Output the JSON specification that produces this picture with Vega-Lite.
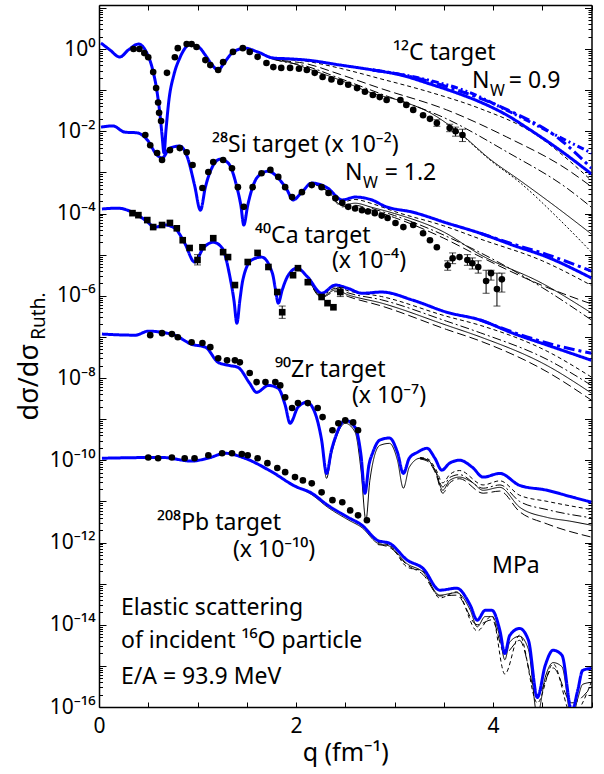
{
"$schema": "https://vega.github.io/schema/vega-lite/v6.json",
"width": 492.5, "height": 702,
"autosize": "none",
"padding": {"left": 99, "top": 5, "right": 12.5, "bottom": 67},
"config": {"view": {"stroke": null}, "font": "Noto Sans",
  "axis": {"grid": false, "domainColor": "black", "domainWidth": 1.5, "tickColor": "black", "tickWidth": 1, "labelColor": "black", "titleColor": "black", "labelFlush": false, "labelOverlap": false, "labelFont": "Noto Sans", "titleFont": "Noto Sans"}},
"datasets": {
"blue": [
{"t":"C","m":"B1","q":0.02,"v":1.40},{"t":"C","m":"B1","q":0.11,"v":0.955},{"t":"C","m":"B1","q":0.21,"v":0.638},{"t":"C","m":"B1","q":0.30,"v":0.955},{"t":"C","m":"B1","q":0.40,"v":1.318},{"t":"C","m":"B1","q":0.48,"v":0.851},{"t":"C","m":"B1","q":0.54,"v":0.347},{"t":"C","m":"B1","q":0.59,"v":0.0891},{"t":"C","m":"B1","q":0.62,"v":0.0245},{"t":"C","m":"B1","q":0.64,"v":0.00813},{"t":"C","m":"B1","q":0.66,"v":0.00295},{"t":"C","m":"B1","q":0.68,"v":0.0107},{"t":"C","m":"B1","q":0.71,"v":0.0575},{"t":"C","m":"B1","q":0.76,"v":0.234},{"t":"C","m":"B1","q":0.82,"v":0.603},{"t":"C","m":"B1","q":0.92,"v":1.259},{"t":"C","m":"B1","q":1.01,"v":1.122},{"t":"C","m":"B1","q":1.08,"v":0.708},{"t":"C","m":"B1","q":1.15,"v":0.407},{"t":"C","m":"B1","q":1.21,"v":0.309},{"t":"C","m":"B1","q":1.27,"v":0.457},{"t":"C","m":"B1","q":1.35,"v":0.794},{"t":"C","m":"B1","q":1.48,"v":1.047},{"t":"C","m":"B1","q":1.61,"v":0.851},{"t":"C","m":"B1","q":1.77,"v":0.603},{"t":"C","m":"B1","q":1.94,"v":0.575},{"t":"C","m":"B1","q":2.11,"v":0.537},{"t":"C","m":"B1","q":2.45,"v":0.407},{"t":"C","m":"B1","q":2.78,"v":0.309},{"t":"C","m":"B1","q":3.06,"v":0.234},{"t":"C","m":"B1","q":3.36,"v":0.141},{"t":"C","m":"B1","q":3.61,"v":0.0891},{"t":"C","m":"B1","q":3.87,"v":0.0513},{"t":"C","m":"B1","q":4.12,"v":0.0263},{"t":"C","m":"B1","q":4.38,"v":0.0107},{"t":"C","m":"B1","q":4.68,"v":0.00347},{"t":"C","m":"B1","q":5.0,"v":0.000912},
{"t":"C","m":"B2","q":2.78,"v":0.309},{"t":"C","m":"B2","q":3.06,"v":0.240},{"t":"C","m":"B2","q":3.61,"v":0.105},{"t":"C","m":"B2","q":4.12,"v":0.0355},{"t":"C","m":"B2","q":4.68,"v":0.00631},{"t":"C","m":"B2","q":5.0,"v":0.00126},
{"t":"C","m":"B3","q":2.78,"v":0.309},{"t":"C","m":"B3","q":3.26,"v":0.195},{"t":"C","m":"B3","q":3.70,"v":0.100},{"t":"C","m":"B3","q":4.20,"v":0.0275},{"t":"C","m":"B3","q":4.60,"v":0.00891},{"t":"C","m":"B3","q":5.0,"v":0.00295},
{"t":"Si","m":"B1","q":0.02,"v":1.26e-2},{"t":"Si","m":"B1","q":0.14,"v":1.35e-2},{"t":"Si","m":"B1","q":0.26,"v":9.55e-3},{"t":"Si","m":"B1","q":0.39,"v":9.12e-3},{"t":"Si","m":"B1","q":0.49,"v":6.17e-3},{"t":"Si","m":"B1","q":0.59,"v":2.63e-3},{"t":"Si","m":"B1","q":0.64,"v":2.24e-3},{"t":"Si","m":"B1","q":0.72,"v":3.89e-3},{"t":"Si","m":"B1","q":0.82,"v":4.37e-3},{"t":"Si","m":"B1","q":0.90,"v":2.24e-3},{"t":"Si","m":"B1","q":0.97,"v":4.90e-4},{"t":"Si","m":"B1","q":1.03,"v":1.20e-4},{"t":"Si","m":"B1","q":1.08,"v":4.37e-4},{"t":"Si","m":"B1","q":1.15,"v":1.35e-3},{"t":"Si","m":"B1","q":1.23,"v":2.09e-3},{"t":"Si","m":"B1","q":1.31,"v":1.70e-3},{"t":"Si","m":"B1","q":1.40,"v":4.37e-4},{"t":"Si","m":"B1","q":1.44,"v":1.58e-4},{"t":"Si","m":"B1","q":1.47,"v":5.25e-5},{"t":"Si","m":"B1","q":1.51,"v":1.58e-4},{"t":"Si","m":"B1","q":1.55,"v":3.72e-4},{"t":"Si","m":"B1","q":1.61,"v":7.76e-4},{"t":"Si","m":"B1","q":1.72,"v":1.07e-3},{"t":"Si","m":"B1","q":1.82,"v":7.24e-4},{"t":"Si","m":"B1","q":1.91,"v":3.72e-4},{"t":"Si","m":"B1","q":1.97,"v":2.14e-4},{"t":"Si","m":"B1","q":2.06,"v":3.31e-4},{"t":"Si","m":"B1","q":2.16,"v":5.50e-4},{"t":"Si","m":"B1","q":2.32,"v":4.17e-4},{"t":"Si","m":"B1","q":2.47,"v":2.14e-4},{"t":"Si","m":"B1","q":2.60,"v":2.51e-4},{"t":"Si","m":"B1","q":2.77,"v":2.14e-4},{"t":"Si","m":"B1","q":2.90,"v":1.51e-4},{"t":"Si","m":"B1","q":3.19,"v":1.07e-4},{"t":"Si","m":"B1","q":3.53,"v":5.89e-5},{"t":"Si","m":"B1","q":3.87,"v":3.31e-5},{"t":"Si","m":"B1","q":4.20,"v":1.70e-5},{"t":"Si","m":"B1","q":4.55,"v":8.71e-6},{"t":"Si","m":"B1","q":5.0,"v":2.69e-6},
{"t":"Si","m":"B2","q":3.87,"v":3.31e-5},{"t":"Si","m":"B2","q":4.20,"v":1.82e-5},{"t":"Si","m":"B2","q":4.55,"v":1.0e-5},{"t":"Si","m":"B2","q":5.0,"v":3.98e-6},
{"t":"Ca","m":"B1","q":0.03,"v":1.29e-4},{"t":"Ca","m":"B1","q":0.19,"v":1.35e-4},{"t":"Ca","m":"B1","q":0.34,"v":1.07e-4},{"t":"Ca","m":"B1","q":0.47,"v":6.92e-5},{"t":"Ca","m":"B1","q":0.57,"v":4.68e-5},{"t":"Ca","m":"B1","q":0.67,"v":5.25e-5},{"t":"Ca","m":"B1","q":0.77,"v":4.37e-5},{"t":"Ca","m":"B1","q":0.87,"v":1.91e-5},{"t":"Ca","m":"B1","q":0.97,"v":6.61e-6},{"t":"Ca","m":"B1","q":1.06,"v":1.45e-5},{"t":"Ca","m":"B1","q":1.16,"v":2.00e-5},{"t":"Ca","m":"B1","q":1.25,"v":1.45e-5},{"t":"Ca","m":"B1","q":1.33,"v":2.82e-6},{"t":"Ca","m":"B1","q":1.37,"v":7.76e-7},{"t":"Ca","m":"B1","q":1.40,"v":2.14e-7},{"t":"Ca","m":"B1","q":1.43,"v":7.76e-7},{"t":"Ca","m":"B1","q":1.46,"v":2.40e-6},{"t":"Ca","m":"B1","q":1.55,"v":7.41e-6},{"t":"Ca","m":"B1","q":1.65,"v":8.71e-6},{"t":"Ca","m":"B1","q":1.76,"v":3.55e-6},{"t":"Ca","m":"B1","q":1.79,"v":1.51e-6},{"t":"Ca","m":"B1","q":1.82,"v":6.61e-7},{"t":"Ca","m":"B1","q":1.86,"v":1.38e-6},{"t":"Ca","m":"B1","q":1.91,"v":2.82e-6},{"t":"Ca","m":"B1","q":2.01,"v":4.68e-6},{"t":"Ca","m":"B1","q":2.12,"v":2.82e-6},{"t":"Ca","m":"B1","q":2.26,"v":1.15e-6},{"t":"Ca","m":"B1","q":2.40,"v":1.82e-6},{"t":"Ca","m":"B1","q":2.53,"v":1.51e-6},{"t":"Ca","m":"B1","q":2.67,"v":1.15e-6},{"t":"Ca","m":"B1","q":2.87,"v":1.23e-6},{"t":"Ca","m":"B1","q":3.19,"v":7.76e-7},{"t":"Ca","m":"B1","q":3.53,"v":3.98e-7},{"t":"Ca","m":"B1","q":3.87,"v":2.57e-7},{"t":"Ca","m":"B1","q":4.20,"v":1.23e-7},{"t":"Ca","m":"B1","q":4.55,"v":6.31e-8},{"t":"Ca","m":"B1","q":5.0,"v":2.69e-8},
{"t":"Ca","m":"B2","q":3.87,"v":2.57e-7},{"t":"Ca","m":"B2","q":4.55,"v":7.08e-8},{"t":"Ca","m":"B2","q":5.0,"v":3.98e-8},
{"t":"Zr","m":"B1","q":0.03,"v":1.17e-7},{"t":"Zr","m":"B1","q":0.37,"v":1.10e-7},{"t":"Zr","m":"B1","q":0.50,"v":1.38e-7},{"t":"Zr","m":"B1","q":0.64,"v":1.29e-7},{"t":"Zr","m":"B1","q":0.77,"v":1.10e-7},{"t":"Zr","m":"B1","q":0.94,"v":6.61e-8},{"t":"Zr","m":"B1","q":1.08,"v":5.62e-8},{"t":"Zr","m":"B1","q":1.21,"v":2.40e-8},{"t":"Zr","m":"B1","q":1.31,"v":2.04e-8},{"t":"Zr","m":"B1","q":1.41,"v":1.82e-8},{"t":"Zr","m":"B1","q":1.53,"v":7.41e-9},{"t":"Zr","m":"B1","q":1.60,"v":4.47e-9},{"t":"Zr","m":"B1","q":1.72,"v":6.61e-9},{"t":"Zr","m":"B1","q":1.82,"v":5.62e-9},{"t":"Zr","m":"B1","q":1.89,"v":2.19e-9},{"t":"Zr","m":"B1","q":1.94,"v":7.94e-10},{"t":"Zr","m":"B1","q":2.02,"v":1.95e-9},{"t":"Zr","m":"B1","q":2.11,"v":2.57e-9},{"t":"Zr","m":"B1","q":2.19,"v":1.48e-9},{"t":"Zr","m":"B1","q":2.26,"v":3.09e-10},{"t":"Zr","m":"B1","q":2.31,"v":4.79e-11},{"t":"Zr","m":"B1","q":2.36,"v":1.74e-10},{"t":"Zr","m":"B1","q":2.40,"v":3.63e-10},{"t":"Zr","m":"B1","q":2.50,"v":9.33e-10},{"t":"Zr","m":"B1","q":2.60,"v":6.31e-10},{"t":"Zr","m":"B1","q":2.66,"v":1.32e-10},{"t":"Zr","m":"B1","q":2.70,"v":1.58e-11},{"t":"Zr","m":"B1","q":2.74,"v":7.59e-11},{"t":"Zr","m":"B1","q":2.78,"v":1.55e-10},{"t":"Zr","m":"B1","q":2.85,"v":3.09e-10},{"t":"Zr","m":"B1","q":2.95,"v":3.47e-10},{"t":"Zr","m":"B1","q":3.03,"v":1.55e-10},{"t":"Zr","m":"B1","q":3.09,"v":4.79e-11},{"t":"Zr","m":"B1","q":3.15,"v":1.12e-10},{"t":"Zr","m":"B1","q":3.23,"v":1.55e-10},{"t":"Zr","m":"B1","q":3.33,"v":1.95e-10},{"t":"Zr","m":"B1","q":3.41,"v":1.12e-10},{"t":"Zr","m":"B1","q":3.48,"v":5.75e-11},{"t":"Zr","m":"B1","q":3.56,"v":8.51e-11},{"t":"Zr","m":"B1","q":3.66,"v":1.00e-10},{"t":"Zr","m":"B1","q":3.79,"v":6.76e-11},{"t":"Zr","m":"B1","q":3.90,"v":3.89e-11},{"t":"Zr","m":"B1","q":4.07,"v":4.79e-11},{"t":"Zr","m":"B1","q":4.27,"v":2.45e-11},{"t":"Zr","m":"B1","q":4.55,"v":1.86e-11},{"t":"Zr","m":"B1","q":4.78,"v":1.32e-11},{"t":"Zr","m":"B1","q":5.0,"v":9.55e-12},
{"t":"Pb","m":"B1","q":0.03,"v":1.12e-10},{"t":"Pb","m":"B1","q":0.64,"v":1.17e-10},{"t":"Pb","m":"B1","q":0.94,"v":9.55e-11},{"t":"Pb","m":"B1","q":1.13,"v":1.17e-10},{"t":"Pb","m":"B1","q":1.28,"v":1.48e-10},{"t":"Pb","m":"B1","q":1.48,"v":1.12e-10},{"t":"Pb","m":"B1","q":1.76,"v":5.13e-11},{"t":"Pb","m":"B1","q":1.99,"v":2.34e-11},{"t":"Pb","m":"B1","q":2.16,"v":1.58e-11},{"t":"Pb","m":"B1","q":2.32,"v":8.13e-12},{"t":"Pb","m":"B1","q":2.53,"v":4.07e-12},{"t":"Pb","m":"B1","q":2.67,"v":2.63e-12},{"t":"Pb","m":"B1","q":2.83,"v":1.12e-12},{"t":"Pb","m":"B1","q":2.95,"v":9.55e-13},{"t":"Pb","m":"B1","q":3.13,"v":3.72e-13},{"t":"Pb","m":"B1","q":3.29,"v":2.34e-13},{"t":"Pb","m":"B1","q":3.46,"v":6.92e-14},{"t":"Pb","m":"B1","q":3.63,"v":7.76e-14},{"t":"Pb","m":"B1","q":3.77,"v":2.95e-14},{"t":"Pb","m":"B1","q":3.84,"v":1.29e-14},{"t":"Pb","m":"B1","q":3.92,"v":2.24e-14},{"t":"Pb","m":"B1","q":3.99,"v":2.24e-14},{"t":"Pb","m":"B1","q":4.07,"v":7.24e-15},{"t":"Pb","m":"B1","q":4.12,"v":2.00e-15},{"t":"Pb","m":"B1","q":4.17,"v":5.50e-15},{"t":"Pb","m":"B1","q":4.27,"v":8.13e-15},{"t":"Pb","m":"B1","q":4.36,"v":4.17e-15},{"t":"Pb","m":"B1","q":4.45,"v":1.70e-16},{"t":"Pb","m":"B1","q":4.53,"v":1.02e-15},{"t":"Pb","m":"B1","q":4.61,"v":2.40e-15},{"t":"Pb","m":"B1","q":4.70,"v":1.82e-15},{"t":"Pb","m":"B1","q":4.80,"v":7.94e-17},{"t":"Pb","m":"B1","q":4.86,"v":2.51e-16},{"t":"Pb","m":"B1","q":4.91,"v":7.76e-16},{"t":"Pb","m":"B1","q":5.0,"v":8.71e-16}
],
"black": [
{"t":"C","m":"K1","q":1.61,"v":0.851},{"t":"C","m":"K1","q":1.77,"v":0.562},{"t":"C","m":"K1","q":1.94,"v":0.468},{"t":"C","m":"K1","q":2.11,"v":0.339},{"t":"C","m":"K1","q":2.45,"v":0.174},{"t":"C","m":"K1","q":2.78,"v":0.0832},{"t":"C","m":"K1","q":3.06,"v":0.055},{"t":"C","m":"K1","q":3.36,"v":0.0282},{"t":"C","m":"K1","q":3.69,"v":0.00794},{"t":"C","m":"K1","q":3.97,"v":0.00209},{"t":"C","m":"K1","q":4.27,"v":6.46e-4},{"t":"C","m":"K1","q":4.63,"v":1.51e-4},{"t":"C","m":"K1","q":5.0,"v":3.16e-5},
{"t":"C","m":"K5","q":3.69,"v":0.00794},{"t":"C","m":"K5","q":3.97,"v":0.0020},{"t":"C","m":"K5","q":4.27,"v":5.75e-4},{"t":"C","m":"K5","q":4.68,"v":6.92e-5},{"t":"C","m":"K5","q":5.0,"v":1.15e-5},
{"t":"C","m":"K3","q":1.61,"v":0.851},{"t":"C","m":"K3","q":1.77,"v":0.603},{"t":"C","m":"K3","q":2.11,"v":0.501},{"t":"C","m":"K3","q":2.45,"v":0.339},{"t":"C","m":"K3","q":2.85,"v":0.191},{"t":"C","m":"K3","q":3.36,"v":0.0891},{"t":"C","m":"K3","q":3.87,"v":0.0355},{"t":"C","m":"K3","q":4.38,"v":0.010},{"t":"C","m":"K3","q":5.0,"v":6.31e-4},
{"t":"C","m":"K2","q":1.61,"v":0.851},{"t":"C","m":"K2","q":1.77,"v":0.589},{"t":"C","m":"K2","q":2.11,"v":0.437},{"t":"C","m":"K2","q":2.45,"v":0.240},{"t":"C","m":"K2","q":2.85,"v":0.112},{"t":"C","m":"K2","q":3.53,"v":0.0331},{"t":"C","m":"K2","q":4.14,"v":0.00724},{"t":"C","m":"K2","q":4.76,"v":0.00115},{"t":"C","m":"K2","q":5.0,"v":4.47e-4},
{"t":"C","m":"K4","q":1.61,"v":0.851},{"t":"C","m":"K4","q":1.77,"v":0.575},{"t":"C","m":"K4","q":2.11,"v":0.380},{"t":"C","m":"K4","q":2.45,"v":0.191},{"t":"C","m":"K4","q":2.85,"v":0.0832},{"t":"C","m":"K4","q":3.53,"v":0.020},{"t":"C","m":"K4","q":4.14,"v":0.00316},{"t":"C","m":"K4","q":4.76,"v":3.98e-4},{"t":"C","m":"K4","q":5.0,"v":1.41e-4},
{"t":"Si","m":"K3","q":2.16,"v":5.50e-4},{"t":"Si","m":"K3","q":2.32,"v":3.98e-4},{"t":"Si","m":"K3","q":2.47,"v":1.91e-4},{"t":"Si","m":"K3","q":2.60,"v":2.19e-4},{"t":"Si","m":"K3","q":2.77,"v":1.74e-4},{"t":"Si","m":"K3","q":3.0,"v":1.12e-4},{"t":"Si","m":"K3","q":3.5,"v":5.01e-5},{"t":"Si","m":"K3","q":3.87,"v":2.40e-5},{"t":"Si","m":"K3","q":4.5,"v":7.08e-6},{"t":"Si","m":"K3","q":5.0,"v":1.78e-6},
{"t":"Si","m":"K1","q":2.16,"v":5.50e-4},{"t":"Si","m":"K1","q":2.32,"v":3.55e-4},{"t":"Si","m":"K1","q":2.47,"v":1.58e-4},{"t":"Si","m":"K1","q":2.60,"v":1.78e-4},{"t":"Si","m":"K1","q":2.77,"v":1.41e-4},{"t":"Si","m":"K1","q":3.0,"v":1.0e-4},{"t":"Si","m":"K1","q":3.5,"v":3.55e-5},{"t":"Si","m":"K1","q":3.87,"v":1.0e-5},{"t":"Si","m":"K1","q":4.5,"v":2.0e-6},{"t":"Si","m":"K1","q":5.0,"v":3.80e-7},
{"t":"Si","m":"K2","q":2.16,"v":5.50e-4},{"t":"Si","m":"K2","q":2.32,"v":3.39e-4},{"t":"Si","m":"K2","q":2.47,"v":1.45e-4},{"t":"Si","m":"K2","q":2.60,"v":1.58e-4},{"t":"Si","m":"K2","q":2.77,"v":1.20e-4},{"t":"Si","m":"K2","q":3.0,"v":7.94e-5},{"t":"Si","m":"K2","q":3.5,"v":2.51e-5},{"t":"Si","m":"K2","q":3.87,"v":8.91e-6},{"t":"Si","m":"K2","q":4.5,"v":1.78e-6},{"t":"Si","m":"K2","q":5.0,"v":6.31e-7},
{"t":"Si","m":"K4","q":2.77,"v":1.32e-4},{"t":"Si","m":"K4","q":3.0,"v":8.91e-5},{"t":"Si","m":"K4","q":3.87,"v":1.12e-5},{"t":"Si","m":"K4","q":4.5,"v":1.58e-6},{"t":"Si","m":"K4","q":5.0,"v":2.57e-7},
{"t":"Ca","m":"K3","q":2.12,"v":2.82e-6},{"t":"Ca","m":"K3","q":2.26,"v":1.07e-6},{"t":"Ca","m":"K3","q":2.40,"v":1.66e-6},{"t":"Ca","m":"K3","q":2.53,"v":1.32e-6},{"t":"Ca","m":"K3","q":2.87,"v":9.55e-7},{"t":"Ca","m":"K3","q":3.53,"v":3.16e-7},{"t":"Ca","m":"K3","q":3.87,"v":1.91e-7},{"t":"Ca","m":"K3","q":4.55,"v":4.47e-8},{"t":"Ca","m":"K3","q":5.0,"v":1.05e-8},
{"t":"Ca","m":"K4","q":2.12,"v":2.82e-6},{"t":"Ca","m":"K4","q":2.26,"v":1.02e-6},{"t":"Ca","m":"K4","q":2.40,"v":1.51e-6},{"t":"Ca","m":"K4","q":2.53,"v":1.17e-6},{"t":"Ca","m":"K4","q":2.87,"v":7.94e-7},{"t":"Ca","m":"K4","q":3.53,"v":2.40e-7},{"t":"Ca","m":"K4","q":3.87,"v":1.26e-7},{"t":"Ca","m":"K4","q":4.55,"v":2.82e-8},{"t":"Ca","m":"K4","q":5.0,"v":6.61e-9},
{"t":"Ca","m":"K1","q":2.12,"v":2.82e-6},{"t":"Ca","m":"K1","q":2.26,"v":9.55e-7},{"t":"Ca","m":"K1","q":2.40,"v":1.38e-6},{"t":"Ca","m":"K1","q":2.53,"v":1.05e-6},{"t":"Ca","m":"K1","q":2.87,"v":6.61e-7},{"t":"Ca","m":"K1","q":3.53,"v":1.91e-7},{"t":"Ca","m":"K1","q":3.87,"v":1.0e-7},{"t":"Ca","m":"K1","q":4.55,"v":2.0e-8},{"t":"Ca","m":"K1","q":5.0,"v":4.27e-9},
{"t":"Ca","m":"K2","q":2.12,"v":2.82e-6},{"t":"Ca","m":"K2","q":2.26,"v":9.12e-7},{"t":"Ca","m":"K2","q":2.40,"v":1.26e-6},{"t":"Ca","m":"K2","q":2.53,"v":9.55e-7},{"t":"Ca","m":"K2","q":2.87,"v":5.62e-7},{"t":"Ca","m":"K2","q":3.53,"v":1.51e-7},{"t":"Ca","m":"K2","q":3.87,"v":7.94e-8},{"t":"Ca","m":"K2","q":4.55,"v":1.41e-8},{"t":"Ca","m":"K2","q":5.0,"v":2.88e-9},
{"t":"Zr","m":"K1","q":2.11,"v":2.57e-9},{"t":"Zr","m":"K1","q":2.19,"v":1.41e-9},{"t":"Zr","m":"K1","q":2.26,"v":2.82e-10},{"t":"Zr","m":"K1","q":2.31,"v":3.63e-11},{"t":"Zr","m":"K1","q":2.36,"v":1.41e-10},{"t":"Zr","m":"K1","q":2.40,"v":3.09e-10},{"t":"Zr","m":"K1","q":2.50,"v":7.94e-10},{"t":"Zr","m":"K1","q":2.60,"v":4.79e-10},{"t":"Zr","m":"K1","q":2.66,"v":5.75e-11},{"t":"Zr","m":"K1","q":2.71,"v":3.47e-12},{"t":"Zr","m":"K1","q":2.75,"v":3.24e-11},{"t":"Zr","m":"K1","q":2.85,"v":2.29e-10},{"t":"Zr","m":"K1","q":2.95,"v":2.57e-10},{"t":"Zr","m":"K1","q":3.03,"v":1.0e-10},{"t":"Zr","m":"K1","q":3.09,"v":2.09e-11},{"t":"Zr","m":"K1","q":3.15,"v":6.76e-11},{"t":"Zr","m":"K1","q":3.26,"v":1.12e-10},{"t":"Zr","m":"K1","q":3.34,"v":1.0e-10},{"t":"Zr","m":"K1","q":3.42,"v":5.13e-11},{"t":"Zr","m":"K1","q":3.49,"v":1.86e-11},{"t":"Zr","m":"K1","q":3.56,"v":3.24e-11},{"t":"Zr","m":"K1","q":3.66,"v":3.89e-11},{"t":"Zr","m":"K1","q":3.79,"v":2.88e-11},{"t":"Zr","m":"K1","q":3.90,"v":1.86e-11},{"t":"Zr","m":"K1","q":4.07,"v":2.19e-11},{"t":"Zr","m":"K1","q":4.27,"v":7.24e-12},{"t":"Zr","m":"K1","q":4.55,"v":4.07e-12},{"t":"Zr","m":"K1","q":4.78,"v":3.31e-12},{"t":"Zr","m":"K1","q":5.0,"v":2.63e-12},
{"t":"Zr","m":"K3","q":3.26,"v":1.17e-10},{"t":"Zr","m":"K3","q":3.34,"v":1.07e-10},{"t":"Zr","m":"K3","q":3.42,"v":6.03e-11},{"t":"Zr","m":"K3","q":3.49,"v":2.82e-11},{"t":"Zr","m":"K3","q":3.56,"v":4.47e-11},{"t":"Zr","m":"K3","q":3.66,"v":5.62e-11},{"t":"Zr","m":"K3","q":3.90,"v":2.51e-11},{"t":"Zr","m":"K3","q":4.07,"v":3.16e-11},{"t":"Zr","m":"K3","q":4.27,"v":1.41e-11},{"t":"Zr","m":"K3","q":4.55,"v":1.0e-11},{"t":"Zr","m":"K3","q":5.0,"v":6.31e-12},
{"t":"Zr","m":"K2","q":3.26,"v":1.07e-10},{"t":"Zr","m":"K2","q":3.34,"v":9.33e-11},{"t":"Zr","m":"K2","q":3.42,"v":4.68e-11},{"t":"Zr","m":"K2","q":3.49,"v":1.58e-11},{"t":"Zr","m":"K2","q":3.56,"v":2.82e-11},{"t":"Zr","m":"K2","q":3.66,"v":3.55e-11},{"t":"Zr","m":"K2","q":3.90,"v":1.58e-11},{"t":"Zr","m":"K2","q":4.07,"v":1.78e-11},{"t":"Zr","m":"K2","q":4.27,"v":5.62e-12},{"t":"Zr","m":"K2","q":4.55,"v":2.82e-12},{"t":"Zr","m":"K2","q":5.0,"v":1.35e-12},
{"t":"Zr","m":"K4","q":3.26,"v":1.12e-10},{"t":"Zr","m":"K4","q":3.34,"v":1.0e-10},{"t":"Zr","m":"K4","q":3.42,"v":5.25e-11},{"t":"Zr","m":"K4","q":3.49,"v":2.24e-11},{"t":"Zr","m":"K4","q":3.56,"v":3.80e-11},{"t":"Zr","m":"K4","q":3.66,"v":4.47e-11},{"t":"Zr","m":"K4","q":3.90,"v":2.09e-11},{"t":"Zr","m":"K4","q":4.07,"v":2.51e-11},{"t":"Zr","m":"K4","q":4.27,"v":1.0e-11},{"t":"Zr","m":"K4","q":4.55,"v":6.31e-12},{"t":"Zr","m":"K4","q":5.0,"v":3.98e-12},
{"t":"Pb","m":"K1","q":1.99,"v":2.34e-11},{"t":"Pb","m":"K1","q":2.16,"v":1.45e-11},{"t":"Pb","m":"K1","q":2.32,"v":7.24e-12},{"t":"Pb","m":"K1","q":2.53,"v":3.55e-12},{"t":"Pb","m":"K1","q":2.67,"v":2.29e-12},{"t":"Pb","m":"K1","q":2.83,"v":9.55e-13},{"t":"Pb","m":"K1","q":2.95,"v":8.13e-13},{"t":"Pb","m":"K1","q":3.13,"v":3.02e-13},{"t":"Pb","m":"K1","q":3.29,"v":1.91e-13},{"t":"Pb","m":"K1","q":3.46,"v":5.25e-14},{"t":"Pb","m":"K1","q":3.63,"v":6.03e-14},{"t":"Pb","m":"K1","q":3.77,"v":2.24e-14},{"t":"Pb","m":"K1","q":3.84,"v":8.91e-15},{"t":"Pb","m":"K1","q":3.92,"v":1.58e-14},{"t":"Pb","m":"K1","q":3.99,"v":1.58e-14},{"t":"Pb","m":"K1","q":4.07,"v":5.01e-15},{"t":"Pb","m":"K1","q":4.12,"v":1.41e-15},{"t":"Pb","m":"K1","q":4.17,"v":3.80e-15},{"t":"Pb","m":"K1","q":4.27,"v":5.25e-15},{"t":"Pb","m":"K1","q":4.36,"v":2.51e-15},{"t":"Pb","m":"K1","q":4.45,"v":6.31e-17},{"t":"Pb","m":"K1","q":4.53,"v":5.25e-16},{"t":"Pb","m":"K1","q":4.61,"v":1.20e-15},{"t":"Pb","m":"K1","q":4.70,"v":9.55e-16},{"t":"Pb","m":"K1","q":4.80,"v":5.01e-17},{"t":"Pb","m":"K1","q":4.86,"v":1.58e-16},{"t":"Pb","m":"K1","q":4.91,"v":3.55e-16},{"t":"Pb","m":"K1","q":5.0,"v":3.98e-16},
{"t":"Pb","m":"K3","q":2.83,"v":1.0e-12},{"t":"Pb","m":"K3","q":2.95,"v":8.51e-13},{"t":"Pb","m":"K3","q":3.13,"v":2.51e-13},{"t":"Pb","m":"K3","q":3.29,"v":2.0e-13},{"t":"Pb","m":"K3","q":3.46,"v":4.47e-14},{"t":"Pb","m":"K3","q":3.63,"v":6.31e-14},{"t":"Pb","m":"K3","q":3.84,"v":7.08e-15},{"t":"Pb","m":"K3","q":3.99,"v":1.66e-14},{"t":"Pb","m":"K3","q":4.12,"v":6.31e-16},{"t":"Pb","m":"K3","q":4.27,"v":5.62e-15},{"t":"Pb","m":"K3","q":4.45,"v":1.26e-16},{"t":"Pb","m":"K3","q":4.61,"v":1.12e-15},{"t":"Pb","m":"K3","q":4.80,"v":6.31e-17},{"t":"Pb","m":"K3","q":5.0,"v":4.17e-16},
{"t":"Pb","m":"K2","q":2.83,"v":8.91e-13},{"t":"Pb","m":"K2","q":2.95,"v":7.59e-13},{"t":"Pb","m":"K2","q":3.13,"v":2.82e-13},{"t":"Pb","m":"K2","q":3.29,"v":1.66e-13},{"t":"Pb","m":"K2","q":3.46,"v":5.01e-14},{"t":"Pb","m":"K2","q":3.63,"v":5.25e-14},{"t":"Pb","m":"K2","q":3.84,"v":1.0e-14},{"t":"Pb","m":"K2","q":3.99,"v":1.32e-14},{"t":"Pb","m":"K2","q":4.12,"v":2.0e-15},{"t":"Pb","m":"K2","q":4.27,"v":4.17e-15},{"t":"Pb","m":"K2","q":4.45,"v":2.0e-16},{"t":"Pb","m":"K2","q":4.61,"v":8.91e-16},{"t":"Pb","m":"K2","q":4.80,"v":1.26e-16},{"t":"Pb","m":"K2","q":5.0,"v":3.16e-16}
],
"pts": [
{"t":"C","q":0.35,"v":1.0},{"t":"C","q":0.41,"v":1.0},{"t":"C","q":0.46,"v":0.794},{"t":"C","q":0.50,"v":0.631},{"t":"C","q":0.55,"v":0.275},{"t":"C","q":0.58,"v":0.112},{"t":"C","q":0.60,"v":0.0501},{"t":"C","q":0.61,"v":0.0282},{"t":"C","q":0.63,"v":0.0178},{"t":"C","q":0.69,"v":0.263},{"t":"C","q":0.77,"v":0.631},{"t":"C","q":0.80,"v":1.047},{"t":"C","q":0.89,"v":1.318},{"t":"C","q":0.94,"v":1.318},{"t":"C","q":0.99,"v":1.122},{"t":"C","q":1.08,"v":0.537},{"t":"C","q":1.13,"v":0.407},{"t":"C","q":1.21,"v":0.309},{"t":"C","q":1.26,"v":0.479},{"t":"C","q":1.36,"v":0.851},{"t":"C","q":1.46,"v":1.047},{"t":"C","q":1.53,"v":0.851},{"t":"C","q":1.61,"v":0.646},{"t":"C","q":1.70,"v":0.457},{"t":"C","q":1.77,"v":0.363},{"t":"C","q":1.85,"v":0.347},{"t":"C","q":1.94,"v":0.347},{"t":"C","q":2.03,"v":0.331},{"t":"C","q":2.11,"v":0.309},{"t":"C","q":2.19,"v":0.263},{"t":"C","q":2.27,"v":0.209},{"t":"C","q":2.36,"v":0.182},{"t":"C","q":2.45,"v":0.158},{"t":"C","q":2.53,"v":0.135},{"t":"C","q":2.62,"v":0.112},{"t":"C","q":2.70,"v":0.0912},{"t":"C","q":2.78,"v":0.0759},{"t":"C","q":2.85,"v":0.0676},{"t":"C","q":2.92,"v":0.0575},{"t":"C","q":3.06,"v":0.0575},{"t":"C","q":3.12,"v":0.0437},{"t":"C","q":3.19,"v":0.0331},{"t":"C","q":3.29,"v":0.0245},{"t":"C","q":3.36,"v":0.020},{"t":"C","q":3.43,"v":0.0158},{"t":"C","q":3.56,"v":0.012},{"t":"C","q":3.62,"v":0.010},{"t":"C","q":3.69,"v":0.00813},
{"t":"Si","q":0.47,"v":8.13e-3},{"t":"Si","q":0.52,"v":4.57e-3},{"t":"Si","q":0.59,"v":2.95e-3},{"t":"Si","q":0.64,"v":2.0e-3},{"t":"Si","q":0.72,"v":3.47e-3},{"t":"Si","q":0.82,"v":3.89e-3},{"t":"Si","q":0.89,"v":3.09e-3},{"t":"Si","q":0.95,"v":1.51e-3},{"t":"Si","q":1.05,"v":4.17e-4},{"t":"Si","q":1.11,"v":1.02e-3},{"t":"Si","q":1.16,"v":1.78e-3},{"t":"Si","q":1.26,"v":2.0e-3},{"t":"Si","q":1.35,"v":1.26e-3},{"t":"Si","q":1.41,"v":4.37e-4},{"t":"Si","q":1.47,"v":1.45e-4},{"t":"Si","q":1.56,"v":4.37e-4},{"t":"Si","q":1.65,"v":9.55e-4},{"t":"Si","q":1.74,"v":1.15e-3},{"t":"Si","q":1.82,"v":7.76e-4},{"t":"Si","q":1.89,"v":4.37e-4},{"t":"Si","q":1.96,"v":2.51e-4},{"t":"Si","q":2.06,"v":3.31e-4},{"t":"Si","q":2.16,"v":4.90e-4},{"t":"Si","q":2.26,"v":4.37e-4},{"t":"Si","q":2.33,"v":3.16e-4},{"t":"Si","q":2.40,"v":2.34e-4},{"t":"Si","q":2.47,"v":1.82e-4},{"t":"Si","q":2.53,"v":1.45e-4},{"t":"Si","q":2.60,"v":1.32e-4},{"t":"Si","q":2.67,"v":1.20e-4},{"t":"Si","q":2.73,"v":1.12e-4},{"t":"Si","q":2.80,"v":1.02e-4},{"t":"Si","q":2.87,"v":8.91e-5},{"t":"Si","q":2.93,"v":7.76e-5},{"t":"Si","q":3.01,"v":5.89e-5},{"t":"Si","q":3.09,"v":4.68e-5},{"t":"Si","q":3.19,"v":5.25e-5},{"t":"Si","q":3.29,"v":3.31e-5},{"t":"Si","q":3.36,"v":2.24e-5},{"t":"Si","q":3.43,"v":1.51e-5},{"t":"Si","q":3.54,"v":5.50e-6},{"t":"Si","q":3.59,"v":8.13e-6},{"t":"Si","q":3.66,"v":8.71e-6},{"t":"Si","q":3.74,"v":7.41e-6},{"t":"Si","q":3.79,"v":6.17e-6},{"t":"Si","q":3.85,"v":5.01e-6},{"t":"Si","q":3.93,"v":2.29e-6},{"t":"Si","q":3.98,"v":3.55e-6},{"t":"Si","q":4.04,"v":1.45e-6},{"t":"Si","q":4.09,"v":2.51e-6},
{"t":"Ca","q":0.34,"v":1.02e-4},{"t":"Ca","q":0.40,"v":9.12e-5},{"t":"Ca","q":0.49,"v":6.92e-5},{"t":"Ca","q":0.55,"v":4.68e-5},{"t":"Ca","q":0.64,"v":5.25e-5},{"t":"Ca","q":0.72,"v":5.89e-5},{"t":"Ca","q":0.79,"v":4.37e-5},{"t":"Ca","q":0.85,"v":2.24e-5},{"t":"Ca","q":0.92,"v":1.45e-5},{"t":"Ca","q":1.00,"v":7.41e-6},{"t":"Ca","q":1.05,"v":1.51e-5},{"t":"Ca","q":1.16,"v":2.51e-5},{"t":"Ca","q":1.26,"v":1.15e-5},{"t":"Ca","q":1.31,"v":8.71e-6},{"t":"Ca","q":1.38,"v":1.82e-6},{"t":"Ca","q":1.51,"v":6.61e-6},{"t":"Ca","q":1.61,"v":1.10e-5},{"t":"Ca","q":1.72,"v":5.01e-6},{"t":"Ca","q":1.81,"v":1.23e-6},{"t":"Ca","q":1.86,"v":3.98e-7},{"t":"Ca","q":1.97,"v":3.16e-6},{"t":"Ca","q":2.02,"v":4.68e-6},{"t":"Ca","q":2.12,"v":2.14e-6},{"t":"Ca","q":2.26,"v":9.33e-7},{"t":"Ca","q":2.32,"v":6.61e-7},{"t":"Ca","q":2.38,"v":5.25e-7},{"t":"Ca","q":2.45,"v":1.23e-6},
{"t":"Zr","q":0.52,"v":1.10e-7},{"t":"Zr","q":0.64,"v":1.23e-7},{"t":"Zr","q":0.74,"v":1.17e-7},{"t":"Zr","q":0.80,"v":9.77e-8},{"t":"Zr","q":0.94,"v":7.41e-8},{"t":"Zr","q":1.05,"v":7.08e-8},{"t":"Zr","q":1.13,"v":5.62e-8},{"t":"Zr","q":1.21,"v":3.02e-8},{"t":"Zr","q":1.30,"v":2.69e-8},{"t":"Zr","q":1.38,"v":2.69e-8},{"t":"Zr","q":1.43,"v":2.40e-8},{"t":"Zr","q":1.53,"v":1.32e-8},{"t":"Zr","q":1.60,"v":7.94e-9},{"t":"Zr","q":1.69,"v":7.94e-9},{"t":"Zr","q":1.79,"v":7.94e-9},{"t":"Zr","q":1.84,"v":6.61e-9},{"t":"Zr","q":1.89,"v":3.39e-9},{"t":"Zr","q":1.96,"v":1.86e-9},{"t":"Zr","q":2.02,"v":2.45e-9},{"t":"Zr","q":2.12,"v":2.45e-9},{"t":"Zr","q":2.22,"v":1.86e-9},{"t":"Zr","q":2.27,"v":1.12e-9},{"t":"Zr","q":2.37,"v":5.37e-10},{"t":"Zr","q":2.43,"v":7.94e-10},{"t":"Zr","q":2.50,"v":9.33e-10},{"t":"Zr","q":2.58,"v":8.32e-10},{"t":"Zr","q":2.63,"v":5.37e-10},
{"t":"Pb","q":0.50,"v":1.17e-10},{"t":"Pb","q":0.60,"v":1.12e-10},{"t":"Pb","q":0.74,"v":1.17e-10},{"t":"Pb","q":0.87,"v":1.12e-10},{"t":"Pb","q":0.97,"v":1.12e-10},{"t":"Pb","q":1.11,"v":1.32e-10},{"t":"Pb","q":1.25,"v":1.48e-10},{"t":"Pb","q":1.35,"v":1.48e-10},{"t":"Pb","q":1.45,"v":1.41e-10},{"t":"Pb","q":1.51,"v":1.32e-10},{"t":"Pb","q":1.61,"v":1.12e-10},{"t":"Pb","q":1.71,"v":8.51e-11},{"t":"Pb","q":1.81,"v":6.46e-11},{"t":"Pb","q":1.89,"v":5.13e-11},{"t":"Pb","q":1.99,"v":3.89e-11},{"t":"Pb","q":2.07,"v":3.24e-11},{"t":"Pb","q":2.16,"v":2.75e-11},{"t":"Pb","q":2.26,"v":1.66e-11},{"t":"Pb","q":2.37,"v":1.07e-11},{"t":"Pb","q":2.47,"v":9.55e-12},{"t":"Pb","q":2.55,"v":6.03e-12},{"t":"Pb","q":2.63,"v":4.57e-12},{"t":"Pb","q":2.72,"v":3.47e-12}
],
"err": [
{"t":"C","q":3.43,"lo":1.32e-2,"hi":1.91e-2},{"t":"C","q":3.56,"lo":9.77e-3,"hi":1.48e-2},{"t":"C","q":3.62,"lo":7.59e-3,"hi":1.26e-2},{"t":"C","q":3.69,"lo":5.62e-3,"hi":1.12e-2},
{"t":"Si","q":3.54,"lo":4.17e-6,"hi":7.08e-6},{"t":"Si","q":3.59,"lo":6.03e-6,"hi":1.10e-5},{"t":"Si","q":3.74,"lo":5.50e-6,"hi":1.0e-5},{"t":"Si","q":3.79,"lo":4.47e-6,"hi":8.32e-6},{"t":"Si","q":3.85,"lo":3.55e-6,"hi":7.08e-6},{"t":"Si","q":3.93,"lo":1.15e-6,"hi":4.17e-6},{"t":"Si","q":3.98,"lo":2.40e-6,"hi":4.17e-6},{"t":"Si","q":4.04,"lo":5.62e-7,"hi":3.55e-6},{"t":"Si","q":4.09,"lo":1.23e-6,"hi":3.55e-6},
{"t":"Ca","q":1.00,"lo":5.62e-6,"hi":1.0e-5},{"t":"Ca","q":1.86,"lo":2.82e-7,"hi":5.62e-7},{"t":"Ca","q":2.45,"lo":9.55e-7,"hi":1.58e-6}
],
"lab": [
{"q":2.985,"v":0.54,"text":"¹²C target"},{"q":3.787,"v":0.1125,"text":"N"},{"q":4.16,"v":0.1125,"text":"= 0.9"},
{"q":1.147,"v":0.00312,"text":"²⁸Si target (x 10⁻²)"},{"q":2.497,"v":6.5e-4,"text":"N"},{"q":2.90,"v":6.5e-4,"text":"= 1.2"},
{"q":1.584,"v":1.9e-5,"text":"⁴⁰Ca target"},{"q":2.365,"v":4.7e-6,"text":"(x 10⁻⁴)"},
{"q":1.787,"v":1.05e-8,"text":"⁹⁰Zr target"},{"q":2.568,"v":2.44e-9,"text":"(x 10⁻⁷)"},
{"q":0.589,"v":2.0e-12,"text":"²⁰⁸Pb target"},{"q":1.36,"v":4.37e-13,"text":"(x 10⁻¹⁰)"},
{"q":3.99,"v":1.78e-13,"text":"MPa"},
{"q":0.223,"v":1.7e-14,"text":"Elastic scattering"},{"q":0.223,"v":2.7e-15,"text":"of incident ¹⁶O particle"},{"q":0.223,"v":3.55e-16,"text":"E/A = 93.9 MeV"}
],
"sub": [{"q":3.97,"v":0.0718,"text":"W"},{"q":2.68,"v":4.15e-4,"text":"W"}]
},
"encoding": {
  "x": {"field": "q", "type": "quantitative", "scale": {"domain": [0, 5], "nice": false, "zero": false}, "axis": null},
  "y": {"field": "v", "type": "quantitative", "scale": {"type": "log", "domain": [1e-16, 11.75], "nice": false}, "axis": null}
},
"layer": [
{"data": {"values": [{"q": 0, "v": 1}]}, "mark": {"type": "point", "opacity": 0},
 "encoding": {
  "x": {"field": "q", "type": "quantitative", "scale": {"domain": [0, 5], "nice": false, "zero": false},
    "axis": {"orient": "bottom", "values": [0,0.5,1,1.5,2,2.5,3,3.5,4,4.5,5], "tickSize": -5, "labelExpr": "datum.value % 2 == 0 ? format(datum.value, 'd') : ''", "labelFontSize": 21, "labelPadding": 13, "title": "q (fm⁻¹)", "titleFontSize": 25, "titleFontWeight": "normal", "titlePadding": 4}},
  "y": {"field": "v", "type": "quantitative", "scale": {"type": "log", "domain": [1e-16, 11.75], "nice": false},
    "axis": {"orient": "left", "tickCount": 200, "tickSize": {"condition": {"test": "abs(log(datum.value)/LN10 - round(log(datum.value)/LN10)) < 0.01", "value": -7}, "value": -3.5},
      "labelExpr": "abs(log(datum.value)/LN10 - round(log(datum.value)/LN10)) > 0.01 || round(log(datum.value)/LN10) > 0 ? '' : ['10⁰','','10⁻²','','10⁻⁴','','10⁻⁶','','10⁻⁸','','10⁻¹⁰','','10⁻¹²','','10⁻¹⁴','','10⁻¹⁶'][-round(log(datum.value)/LN10)]",
      "labelFontSize": 21, "labelPadding": 11, "title": null}}
 }},
{"data": {"values": [{"q": 0, "v": 1}]}, "mark": {"type": "point", "opacity": 0},
 "encoding": {
  "x": {"field": "q", "type": "quantitative", "scale": {"domain": [0, 5], "nice": false, "zero": false},
    "axis": {"orient": "top", "values": [0,0.5,1,1.5,2,2.5,3,3.5,4,4.5,5], "tickSize": -5, "labels": false, "title": null}},
  "y": {"field": "v", "type": "quantitative", "scale": {"type": "log", "domain": [1e-16, 11.75], "nice": false},
    "axis": {"orient": "right", "tickCount": 200, "tickSize": {"condition": {"test": "abs(log(datum.value)/LN10 - round(log(datum.value)/LN10)) < 0.01", "value": -7}, "value": -3.5}, "labels": false, "title": null}}
 }},
{"data": {"name": "black"}, "mark": {"type": "line", "clip": true, "interpolate": "monotone", "strokeWidth": 1, "color": "black"},
 "encoding": {"detail": {"field": "t"}, "strokeDash": {"field": "m", "type": "nominal", "legend": null,
   "scale": {"domain": ["K1","K2","K3","K4","K5","B1","B2","B3"], "range": [[1,0],[9,4],[4,3],[9,3,2,3],[2,2],[1,0],[11,4,3,4],[7,3,2,3,2,3]]}}}},
{"data": {"name": "blue"}, "mark": {"type": "line", "clip": true, "interpolate": "monotone", "strokeWidth": 3, "color": "#0000ff"},
 "encoding": {"detail": {"field": "t"}, "strokeDash": {"field": "m", "type": "nominal", "legend": null,
   "scale": {"domain": ["K1","K2","K3","K4","K5","B1","B2","B3"], "range": [[1,0],[9,4],[4,3],[9,3,2,3],[2,2],[1,0],[11,4,3,4],[7,3,2,3,2,3]]}}}},
{"data": {"name": "err"}, "mark": {"type": "rule", "color": "black", "strokeWidth": 1},
 "encoding": {"y": {"field": "lo", "type": "quantitative", "scale": {"type": "log", "domain": [1e-16, 11.75], "nice": false}, "axis": null}, "y2": {"field": "hi"}}},
{"data": {"name": "err"}, "mark": {"type": "tick", "orient": "horizontal", "color": "black", "size": 7, "thickness": 1},
 "encoding": {"y": {"field": "lo", "type": "quantitative", "scale": {"type": "log", "domain": [1e-16, 11.75], "nice": false}, "axis": null}}},
{"data": {"name": "err"}, "mark": {"type": "tick", "orient": "horizontal", "color": "black", "size": 7, "thickness": 1},
 "encoding": {"y": {"field": "hi", "type": "quantitative", "scale": {"type": "log", "domain": [1e-16, 11.75], "nice": false}, "axis": null}}},
{"data": {"name": "pts"}, "mark": {"type": "point", "filled": true, "color": "black", "opacity": 1, "size": 44},
 "encoding": {"shape": {"field": "t", "type": "nominal", "legend": null, "scale": {"domain": ["C","Si","Ca","Zr","Pb"], "range": ["circle","circle","square","circle","circle"]}}}},
{"data": {"name": "lab"}, "mark": {"type": "text", "align": "left", "baseline": "alphabetic", "fontSize": 23, "font": "Noto Sans", "color": "black"},
 "encoding": {"text": {"field": "text"}}},
{"data": {"name": "sub"}, "mark": {"type": "text", "align": "left", "baseline": "alphabetic", "fontSize": 16, "font": "Noto Sans", "color": "black"},
 "encoding": {"text": {"field": "text"}}},
{"data": {"values": [{"q": -0.62, "v": 7.9e-9, "text": "dσ/dσ"}]}, "mark": {"type": "text", "align": "center", "baseline": "alphabetic", "angle": 270, "fontSize": 27, "font": "Noto Sans", "color": "black"},
 "encoding": {"text": {"field": "text"}}},
{"data": {"values": [{"q": -0.548, "v": 3.2e-7, "text": "Ruth."}]}, "mark": {"type": "text", "align": "center", "baseline": "alphabetic", "angle": 270, "fontSize": 19, "font": "Noto Sans", "color": "black"},
 "encoding": {"text": {"field": "text"}}}
],
"resolve": {"axis": {"x": "independent", "y": "independent"}}
}
